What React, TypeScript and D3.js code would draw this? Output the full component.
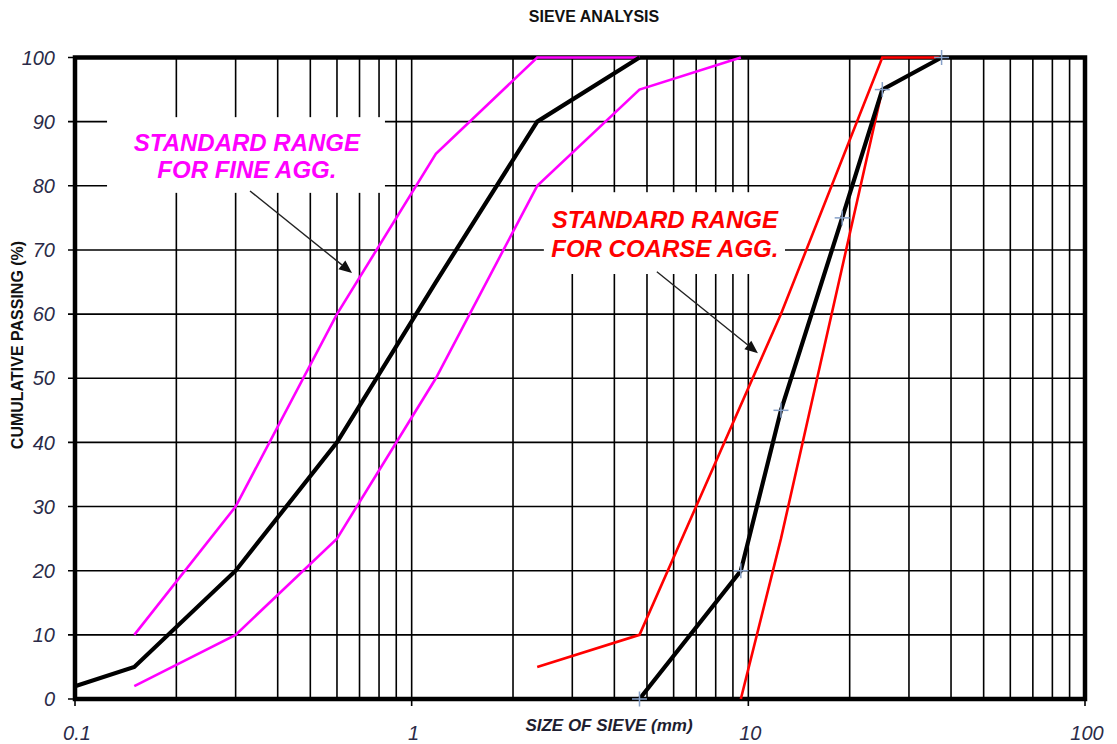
import React from "react";
import * as d3 from "d3";

// Sieve sizes (mm) and cumulative passing (%)
const fineSizes = [0.1, 0.15, 0.3, 0.6, 1.18, 2.36, 4.75];
const finePassing = [2, 5, 20, 40, 65, 90, 100];

const fineUpperSizes = [0.15, 0.3, 0.6, 1.18, 2.36, 4.75];
const fineUpperPassing = [10, 30, 60, 85, 100, 100];

const fineLowerSizes = [0.15, 0.3, 0.6, 1.18, 2.36, 4.75, 9.5];
const fineLowerPassing = [2, 10, 25, 50, 80, 95, 100];

const coarseSizes = [4.75, 9.5, 12.5, 19, 25, 37.5];
const coarsePassing = [0, 20, 45, 75, 95, 100];

const coarseUpperSizes = [2.36, 4.75, 12.5, 25, 37.5];
const coarseUpperPassing = [5, 10, 60, 100, 100];

const coarseLowerSizes = [9.5, 12.5, 25];
const coarseLowerPassing = [0, 25, 95];

const yTicks = [0, 10, 20, 30, 40, 50, 60, 70, 80, 90, 100];
const xMajorTicks = [0.1, 1, 10, 100];
const xTickLabels = ["0.1", "1", "10", "100"];

const W = 1117;
const H = 744;
const left = 75;
const right = 1085;
const top = 57.5;
const bottom = 699;

const FONT = "'Liberation Sans', Arial, sans-serif";

export default function App() {
  const x = d3.scaleLog().domain([0.1, 100]).range([left, right]);
  const y = d3.scaleLinear().domain([0, 100]).range([bottom, top]);

  // minor + major vertical grid values
  const vGrid: number[] = [];
  [0.1, 1, 10].forEach((dec) => {
    for (let k = 1; k <= 9; k++) vGrid.push(dec * k);
  });
  vGrid.push(100);

  const line = d3
    .line<[number, number]>()
    .x((d) => x(d[0]))
    .y((d) => y(d[1]));
  const pts = (xs: number[], ys: number[]) => xs.map((v, i) => [v, ys[i]] as [number, number]);

  const fineBox = { x0: 0.1245, x1: 0.833, y0: 90.7, y1: 78.9, cx: 0.324, b1: 85.4, b2: 81.2 };
  const coarseBox = { x0: 2.47, x1: 12.85, y0: 79.0, y1: 66.25, cx: 5.65, b1: 73.4, b2: 68.9 };
  const fineArrow = { x0: 0.331, y0: 79.2, x1: 0.665, y1: 66.4 };
  const coarseArrow = { x0: 5.35, y0: 66.6, x1: 10.68, y1: 53.9 };

  const arrow = (a: { x0: number; y0: number; x1: number; y1: number }, key: string) => {
    const X0 = x(a.x0), Y0 = y(a.y0), X1 = x(a.x1), Y1 = y(a.y1);
    const ang = Math.atan2(Y1 - Y0, X1 - X0);
    const L = 13, Wd = 5.5;
    const bx = X1 - L * Math.cos(ang), by = Y1 - L * Math.sin(ang);
    const p1 = [bx + Wd * Math.sin(ang), by - Wd * Math.cos(ang)];
    const p2 = [bx - Wd * Math.sin(ang), by + Wd * Math.cos(ang)];
    return (
      <g key={key}>
        <line x1={X0} y1={Y0} x2={bx} y2={by} stroke="#222" strokeWidth={1.4} />
        <polygon points={`${X1},${Y1} ${p1[0]},${p1[1]} ${p2[0]},${p2[1]}`} fill="#111" />
      </g>
    );
  };

  const tickColor = "#2b2b48";

  return (
    <svg width={W} height={H} style={{ position: "absolute", left: 0, top: 0, background: "#fff" }}>
      <rect x={0} y={0} width={W} height={H} fill="#fff" />
      <text x={594} y={22} textAnchor="middle" fontFamily={FONT} fontWeight="bold" fontSize={16} fill="#111">
        SIEVE ANALYSIS
      </text>

      {/* grid */}
      {yTicks.map((t) => (
        <line key={"h" + t} x1={left - 7} x2={right} y1={y(t)} y2={y(t)} stroke="#000" strokeWidth={1.6} />
      ))}
      {vGrid.map((v) => {
        const major = Math.abs(Math.log10(v) - Math.round(Math.log10(v))) < 1e-9;
        return (
          <line key={"v" + v} x1={x(v)} x2={x(v)} y1={top} y2={major ? bottom + 7 : bottom} stroke="#000" strokeWidth={1.6} />
        );
      })}

      {/* label boxes */}
      <rect x={x(fineBox.x0)} y={y(fineBox.y0)} width={x(fineBox.x1) - x(fineBox.x0)} height={y(fineBox.y1) - y(fineBox.y0)} fill="#fff" />
      <rect x={x(coarseBox.x0)} y={y(coarseBox.y0)} width={x(coarseBox.x1) - x(coarseBox.x0)} height={y(coarseBox.y1) - y(coarseBox.y0)} fill="#fff" />

      {/* frame */}
      <rect x={left} y={top} width={right - left} height={bottom - top} fill="none" stroke="#000" strokeWidth={4.5} />

      {/* curves */}
      <path d={line(pts(fineUpperSizes, fineUpperPassing)) || ""} fill="none" stroke="#ff00ff" strokeWidth={2.6} />
      <path d={line(pts(fineLowerSizes, fineLowerPassing)) || ""} fill="none" stroke="#ff00ff" strokeWidth={2.6} />
      <path d={line(pts(coarseUpperSizes, coarseUpperPassing)) || ""} fill="none" stroke="#ff0000" strokeWidth={2.6} />
      <path d={line(pts(coarseLowerSizes, coarseLowerPassing)) || ""} fill="none" stroke="#ff0000" strokeWidth={2.6} />
      <path d={line(pts(fineSizes, finePassing)) || ""} fill="none" stroke="#000" strokeWidth={4.2} strokeLinejoin="miter" />
      <path d={line(pts(coarseSizes, coarsePassing)) || ""} fill="none" stroke="#000" strokeWidth={4.2} />
      {coarseSizes.map((s, i) => (
        <g key={"m" + i} stroke="#86a0c8" strokeWidth={1.5}>
          <line x1={x(s) - 7.5} x2={x(s) + 7.5} y1={y(coarsePassing[i])} y2={y(coarsePassing[i])} />
          <line x1={x(s)} x2={x(s)} y1={y(coarsePassing[i]) - 7.5} y2={y(coarsePassing[i]) + 7.5} />
        </g>
      ))}

      {/* annotations */}
      <g fontFamily={FONT} fontWeight="bold" fontStyle="italic" fontSize={24} textAnchor="middle">
        <text x={x(fineBox.cx)} y={y(fineBox.b1)} fill="#ff00ff">STANDARD RANGE</text>
        <text x={x(fineBox.cx)} y={y(fineBox.b2)} fill="#ff00ff">FOR FINE AGG.</text>
        <text x={x(coarseBox.cx)} y={y(coarseBox.b1)} fill="#ff0000">STANDARD RANGE</text>
        <text x={x(coarseBox.cx)} y={y(coarseBox.b2)} fill="#ff0000">FOR COARSE AGG.</text>
      </g>
      {arrow(fineArrow, "fa")}
      {arrow(coarseArrow, "ca")}

      {/* tick labels */}
      <g fontFamily={FONT} fontStyle="italic" fontSize={20} fill={tickColor}>
        {yTicks.map((t) => (
          <text key={"yl" + t} x={55} y={y(t)} dy="0.36em" textAnchor="end">
            {t}
          </text>
        ))}
        {xMajorTicks.map((t, i) => (
          <text key={"xl" + t} x={x(t) + 2} y={740} textAnchor="middle">
            {xTickLabels[i]}
          </text>
        ))}
      </g>

      {/* axis titles */}
      <text x={609} y={731} textAnchor="middle" fontFamily={FONT} fontWeight="bold" fontStyle="italic" fontSize={17} fill="#1e1e30">
        SIZE OF SIEVE (mm)
      </text>
      <text
        transform={`translate(23,345) rotate(-90)`}
        textAnchor="middle"
        fontFamily={FONT}
        fontWeight="bold"
        fontSize={16}
        fill="#111"
      >
        CUMULATIVE PASSING (%)
      </text>
    </svg>
  );
}
